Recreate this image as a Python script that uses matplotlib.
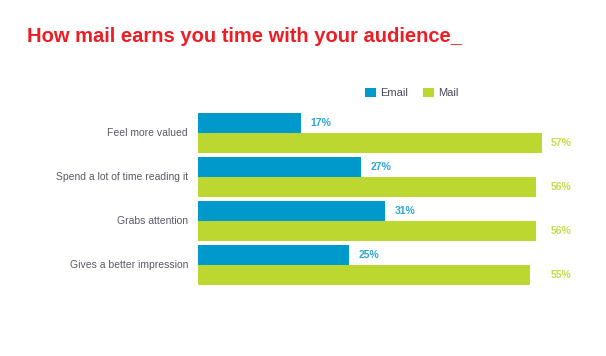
import matplotlib
matplotlib.use("Agg")
import matplotlib.pyplot as plt

categories = ["Feel more valued", "Spend a lot of time reading it", "Grabs attention", "Gives a better impression"]
email = [17, 27, 31, 25]
mail = [57, 56, 56, 55]
series_names = ["Email", "Mail"]

plt.rcParams['font.family'] = ['Liberation Sans', 'DejaVu Sans']

W, H = 606, 356
fig = plt.figure(figsize=(W/100, H/100), dpi=100)
fig.patch.set_facecolor('white')

left, right, top, bottom = 198, 580, 110, 290
ax = fig.add_axes([left/W, 1-bottom/H, (right-left)/W, (bottom-top)/H])
pxu = 6.035  # pixels per percent
ax.set_xlim(0, (right-left)/pxu)
gp = 44.0
ax.set_ylim((bottom-133)/gp, -(133-top)/gp)
ax.axis('off')

blue = '#0099CC'
green = '#BDD731'
ys = list(range(len(categories)))
off = 10/gp
h = 19.5/gp
b1 = ax.barh([y-off for y in ys], email, height=h, color=blue, label=series_names[0])
b2 = ax.barh([y+off for y in ys], mail, height=h, color=green, label=series_names[1])

for y, v in zip(ys, email):
    ax.annotate(f"{v}%", (v, y-off), xytext=(7.2, 0), textcoords='offset points',
                ha='left', va='center', fontsize=7.5, fontweight='bold', color='#2FA6D6')
mx = (551-left)/pxu
for y, v in zip(ys, mail):
    ax.text(mx, y+off, f"{v}%", ha='left', va='center', fontsize=7.5,
            fontweight='bold', color='#C5DB48')

for y, c in zip(ys, categories):
    ax.text(-(10/pxu), y, c, ha='right', va='center', fontsize=7.5, color='#5A5A6A')

fig.legend(handles=[b1, b2], labels=series_names, loc='center left',
           bbox_to_anchor=(355/W, 1-93/H), ncol=2, frameon=False, fontsize=8,
           handlelength=1.0, handleheight=0.9, handletextpad=0.35, columnspacing=1.35,
           labelcolor='#4A4A5A')

fig.text(27/W, 1-42/H, "How mail earns you time with your audience_", ha='left',
         va='baseline', fontsize=14.5, fontweight='bold', color='#EE1C25')

fig.savefig('out.png', dpi=100)
